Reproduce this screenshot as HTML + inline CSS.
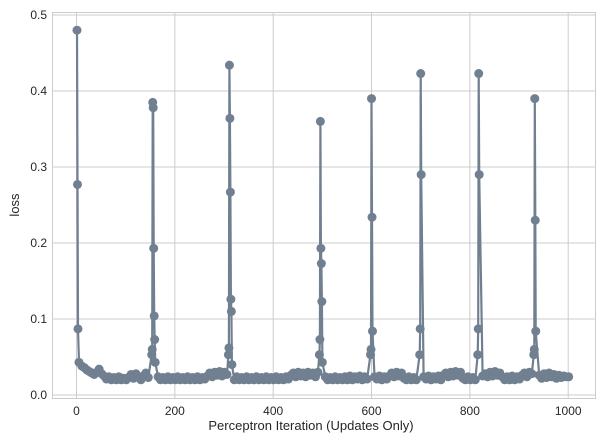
<!DOCTYPE html>
<html><head><meta charset="utf-8">
<style>
body{margin:0;background:#fff;}
svg text{font-family:"Liberation Sans",sans-serif;fill:#262626;}
</style></head>
<body>
<svg id="chart" width="604" height="442" viewBox="0 0 604 442" xmlns="http://www.w3.org/2000/svg">
<rect x="0" y="0" width="604" height="442" fill="#fff"/>
<g id="grid"></g>
<rect x="52.5" y="12.5" width="543" height="386" fill="none" stroke="#cccccc" stroke-width="1"/>
<g id="series"></g>
<g id="ticks"></g>
<text x="311" y="430" font-size="13" text-anchor="middle">Perceptron Iteration (Updates Only)</text>
<text transform="translate(19,205) rotate(-90)" font-size="13" text-anchor="middle">loss</text>
</svg>
<script>
const baseStart = 6;
const baseStep = 5;
const baseLoss = [
0.042,0.038,0.036,0.033,0.031,0.029,0.027,0.030,0.034,0.028,0.025,0.021,0.024,0.020,0.023,0.020,0.024,0.020,0.022,0.020,
0.023,0.027,0.022,0.028,0.024,0.020,0.025,0.029,0.023,0.028,0.022,0.020,0.024,0.020,0.023,0.020,0.024,0.020,0.023,0.020,
0.024,0.020,0.023,0.020,0.024,0.020,0.023,0.020,0.024,0.020,0.023,0.021,0.025,0.029,0.024,0.030,0.026,0.031,0.025,0.030,
0.027,0.031,0.024,0.020,0.024,0.020,0.023,0.020,0.024,0.020,0.023,0.020,0.024,0.020,0.023,0.020,0.024,0.020,0.023,0.020,
0.024,0.020,0.023,0.020,0.024,0.021,0.026,0.029,0.024,0.030,0.025,0.029,0.024,0.030,0.026,0.029,0.024,0.030,0.022,0.020,
0.024,0.020,0.023,0.020,0.024,0.020,0.023,0.020,0.024,0.020,0.025,0.020,0.024,0.021,0.025,0.020,0.024,0.021,0.025,0.020,
0.024,0.021,0.025,0.020,0.024,0.021,0.025,0.029,0.024,0.030,0.025,0.029,0.022,0.020,0.024,0.020,0.023,0.020,0.024,0.020,
0.024,0.021,0.025,0.020,0.024,0.021,0.025,0.020,0.026,0.029,0.024,0.030,0.025,0.031,0.026,0.030,0.022,0.020,0.024,0.020,
0.023,0.020,0.024,0.020,0.025,0.028,0.024,0.030,0.025,0.031,0.026,0.029,0.024,0.020,0.024,0.020,0.025,0.020,0.024,0.021,
0.026,0.029,0.024,0.030,0.028,0.024,0.021,0.026,0.022,0.028,0.023,0.029,0.024,0.027,0.022,0.026,0.023,0.025,0.024,0.024];
const spikeIters = [1,2,3,5, 153,154,155,156,157,158,159,160, 309,310,311,312,313,314,315,316, 494,495,496,497,498,499,500, 598,599,600,601,602, 698,699,700,701, 816,817,818,819, 930,931,932,933,934];
const spikeLoss = [0.48,0.277,0.087,0.043, 0.053,0.06,0.385,0.378,0.193,0.104,0.073,0.043, 0.053,0.062,0.434,0.364,0.267,0.126,0.11,0.04, 0.053,0.073,0.36,0.193,0.173,0.123,0.043, 0.053,0.06,0.39,0.234,0.084, 0.053,0.087,0.423,0.29, 0.053,0.087,0.423,0.29, 0.053,0.06,0.39,0.23,0.084];
const xTicks = [0,200,400,600,800,1000];
const yTicks = [0,0.1,0.2,0.3,0.4,0.5];

const NS='http://www.w3.org/2000/svg';
function xs(v){return 76.5 + v*0.4917;}
function ys(v){return 395 - v*760;}
const grid=document.getElementById('grid'), ticks=document.getElementById('ticks'), ser=document.getElementById('series');
xTicks.forEach(t=>{
  const l=document.createElementNS(NS,'line');
  
  
  l.setAttribute('x1',xs(t));l.setAttribute('x2',xs(t));l.setAttribute('y1',12.5);l.setAttribute('y2',398.5);
  l.setAttribute('stroke','#cccccc');grid.appendChild(l);
  const tx=document.createElementNS(NS,'text');
  
  
  tx.setAttribute('x',xs(t));tx.setAttribute('y',415);tx.setAttribute('font-size','12');tx.setAttribute('text-anchor','middle');
  tx.textContent=t;ticks.appendChild(tx);
});
yTicks.forEach(t=>{
  const l=document.createElementNS(NS,'line');
  
  
  l.setAttribute('x1',52.5);l.setAttribute('x2',595.5);l.setAttribute('y1',ys(t));l.setAttribute('y2',ys(t));
  l.setAttribute('stroke','#cccccc');grid.appendChild(l);
  const tx=document.createElementNS(NS,'text');
  
  
  tx.setAttribute('x',47);tx.setAttribute('y',ys(t)+4);tx.setAttribute('font-size','12');tx.setAttribute('text-anchor','end');
  tx.textContent=t.toFixed(1);ticks.appendChild(tx);
});
const pts=[];
baseLoss.forEach((v,i)=>{
  const x=baseStart+i*baseStep;
  const near=spikeIters.some(s=>Math.abs(s-x)<3);
  if(!near) pts.push([x,v]);
});
spikeIters.forEach((x,i)=>pts.push([x,spikeLoss[i]]));
pts.sort((a,b)=>a[0]-b[0]);
const path=document.createElementNS(NS,'path');


path.setAttribute('d',pts.map((p,i)=>(i?'L':'M')+xs(p[0]).toFixed(1)+' '+ys(p[1]).toFixed(1)).join(''));
path.setAttribute('fill','none');path.setAttribute('stroke','#708090');path.setAttribute('stroke-width','2.2');
ser.appendChild(path);
pts.forEach(p=>{
  const c=document.createElementNS(NS,'circle');
  
  
  c.setAttribute('cx',xs(p[0]));c.setAttribute('cy',ys(p[1]));c.setAttribute('r',4.5);c.setAttribute('fill','#708090');
  ser.appendChild(c);
});
</script>
</body></html>
